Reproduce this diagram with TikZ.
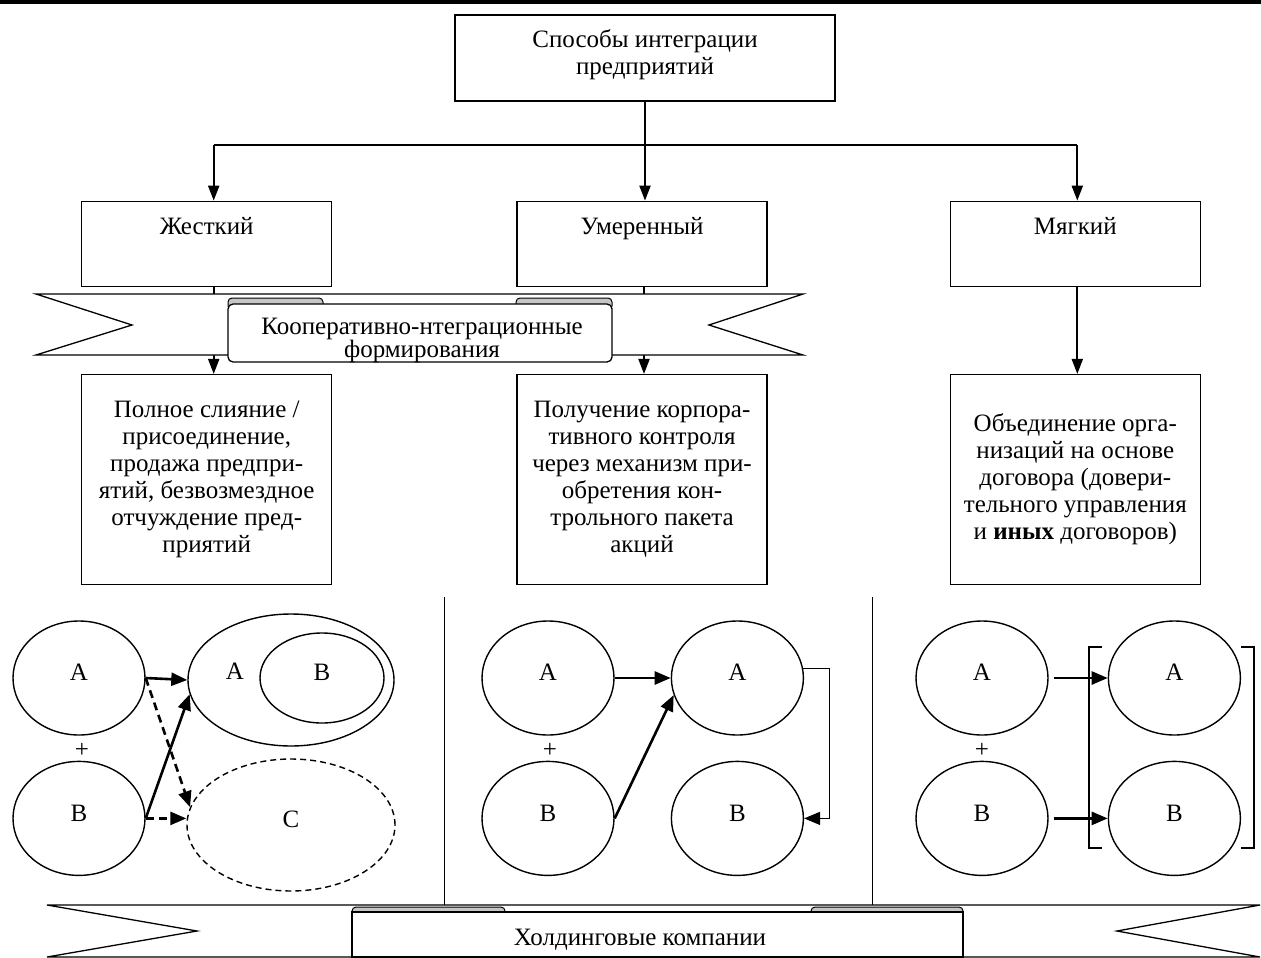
\documentclass[tikz,border=0pt]{standalone}
\usepackage{fontspec}
\setmainfont{Liberation Serif}
\usepackage{tikz}
\usetikzlibrary{positioning,shapes.geometric,arrows.meta}
\tikzset{
	box/.style={draw, line width=1.3pt, fill=white, inner sep=6pt, align=center},
	stage/.style={box, minimum width=250pt, minimum height=85pt},
	stagename/.style={anchor=north, yshift=-13pt},
	desc/.style={box, minimum width=250pt, minimum height=210pt},
	firm/.style={draw, ellipse, line width=1.4pt, minimum width=132pt, minimum height=114pt, inner sep=0pt, text depth=11pt},
	sign/.style={inner sep=0pt},
	trunk/.style={line width=2pt},
	treearrow/.style={trunk, -{Triangle[length=15pt,width=11pt]}},
	link/.style={line width=2.6pt, -{Triangle[length=16pt,width=13pt]}},
	dlink/.style={link, dash pattern=on 8pt off 5pt},
	elbow/.style={line width=1.3pt, -{Triangle[length=16pt,width=13pt]}},
	ribbon/.style={draw, fill=white, line width=1.3pt},
	curl/.style={draw, fill=gray!45, line width=1pt, rounded corners=4pt},
	bracket/.style={line width=1.3pt},
	divider/.style={line width=1pt}
}

\begin{document}
\begin{tikzpicture}[x=1pt, y=-1pt, font=\fontsize{25pt}{27pt}\selectfont]
	\useasboundingbox (0,0) rectangle (1261,958);
	\draw[line width=4pt] (0,2) -- (1261,2);

	% Define nodes
	\node[box, minimum width=380pt, minimum height=86pt, text depth=12pt] (root) at (645,58) {Способы интеграции\\предприятий};
	\node[stage, below=99pt of root, xshift=-3pt, label={[stagename]north:Умеренный}] (mid) {};
	\node[stage, left=184pt of mid, label={[stagename]north:Жесткий}] (hard) {};
	\node[stage, right=182pt of mid, label={[stagename]north:Мягкий}] (soft) {};

	\node[desc, below=87pt of hard] (hardway) {Полное слияние /\\присоединение,\\продажа предпри-\\ятий, безвозмездное\\отчуждение пред-\\приятий};
	\node[desc, below=87pt of mid] (midway) {Получение корпора-\\тивного контроля\\через механизм при-\\обретения кон-\\трольного пакета\\акций};
	\node[desc, below=87pt of soft] (softway) {Объединение орга-\\низаций на основе\\договора (довери-\\тельного управления\\и \textbf{иных} договоров)};

	% Connect the nodes
	\coordinate (bus) at (0,145);
	\coordinate (hardx) at ([xshift=7pt]hard.north);
	\coordinate (softx) at ([xshift=2pt]soft.north);
	\draw[trunk] (hardx |- bus) -- (softx |- bus);
	\draw[treearrow] (root.south) -- (root.south |- mid.north);
	\draw[treearrow] (hardx |- bus) -- (hardx);
	\draw[treearrow] (softx |- bus) -- (softx);
	\draw[treearrow] ([xshift=7pt]hard.south) -- ([xshift=7pt]hardway.north);
	\draw[treearrow] ([xshift=2pt]mid.south) -- ([xshift=2pt]midway.north);
	\draw[treearrow] ([xshift=2pt]soft.south) -- ([xshift=2pt]softway.north);

	% Upper banner
	\draw[ribbon] (36,294) -- (803,294) -- (709,325) -- (803,355) -- (36,355) -- (132,325) -- cycle;
	\draw[curl] (228,298) rectangle (323,310);
	\draw[curl] (516,298) rectangle (612,310);
	\draw[ribbon, rounded corners=5pt] (228,304) rectangle (612,362);
	\node[font=\fontsize{25pt}{23pt}\selectfont, align=center] (coop) at (422,340) {Кооперативно-нтеграционные\\формирования};

	\draw[divider] (444,597) -- (444,905);
	\draw[divider] (872,597) -- (872,905);

	% Hard way
	\node[firm] (a1) at (79,678) {A};
	\node[firm, below=25pt of a1] (b1) {B};
	\node[sign] (plus1) at (82,750) {+};
	\node[firm, minimum width=206pt, minimum height=132pt] (merge) at (291,680) {};
	\node[firm, minimum width=124pt, minimum height=90pt] (mergeb) at (322,678) {B};
	\node[sign] (mergea) at (235,671) {A};
	\node[firm, dash pattern=on 6pt off 4pt, minimum width=208pt, minimum height=132pt] (absorb) at (291,825) {C};
	\draw[link] (a1.east) -- (merge.west);
	\draw[dlink] (a1.east) -- (absorb.170);
	\draw[link] (b1.east) -- (merge.188);
	\draw[dlink] (b1.east) -- (b1.east -| absorb.west);

	% Moderate way
	\node[firm] (a2) at (548,678) {A};
	\node[firm, below=25pt of a2] (b2) {B};
	\node[sign] (plus2) at (550,750) {+};
	\node[firm, right=56pt of a2] (a2r) {A};
	\node[firm, below=25pt of a2r] (b2r) {B};
	\draw[link] (a2.east) -- (a2r.west);
	\draw[link] (b2.east) -- (a2r.195);
	\draw[elbow] (a2r.8) -- ++(26,0) |- (b2r.east);

	% Soft way
	\node[firm] (a3) at (982,678) {A};
	\node[firm, below=25pt of a3] (b3) {B};
	\node[sign] (plus3) at (982,750) {+};
	\node[firm, right=59pt of a3] (a3r) {A};
	\node[firm, below=25pt of a3r] (b3r) {B};
	\draw[link, shorten <=5pt] (a3.east) -- (a3r.west);
	\draw[link, shorten <=5pt] (b3.east) -- (b3r.west);
	\draw[bracket] (1102,647) -- (1089,647) -- (1089,848) -- (1102,848);
	\draw[bracket] (1241,647) -- (1254,647) -- (1254,848) -- (1241,848);

	% Lower banner
	\draw[ribbon] (47,905) -- (1260,905) -- (1117,931) -- (1260,957) -- (47,957) -- (197,931) -- cycle;
	\draw[curl] (352,907) rectangle (505,918);
	\draw[curl] (811,907) rectangle (963,918);
	\draw[ribbon] (352,912) rectangle (963,957);
	\node (holding) at (640,940) {Холдинговые компании};
\end{tikzpicture}
\end{document}
